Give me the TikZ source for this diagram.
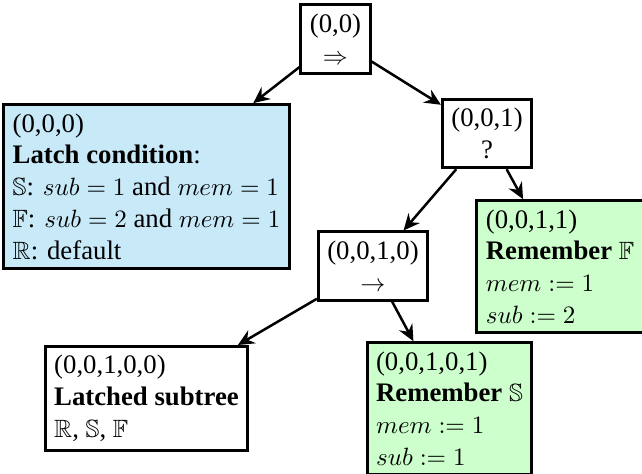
\documentclass[tikz,border=0pt]{standalone}
\usepackage{amssymb}
\usepackage{fontspec}
\setmainfont{Liberation Serif}[Scale=1.07]
\usetikzlibrary{arrows.meta}
\definecolor{latchblue}{RGB}{199,233,248}
\definecolor{remgreen}{RGB}{204,255,204}
\tikzset{
	btnode/.style={draw, line width=1.2pt, inner sep=.3333em, font={\fontsize{10}{12.7}\selectfont}},
	ctnode/.style={btnode, align=center},
	ltnode/.style={btnode, align=left},
	btedge/.style={-{Stealth[length=6.5pt,width=6pt,inset=2.2pt]}, line width=1pt}
}
\begin{document}
\begin{tikzpicture}[x=0.4pt,y=0.4pt,yscale=-1]
		\useasboundingbox (0,0) rectangle (642,474);
		
		%Shape: Rectangle [root]
		\node [ctnode] (root) at (335.5,39) {(0,0)\\$\Rightarrow$};
		%Shape: Rectangle [latch condition]
		\node [ltnode, fill=latchblue] (latch) at (146.5,186.5) {(0,0,0)\\\textbf{Latch condition}:\\$\mathbb{S}$: $sub=1$ and $mem=1$\\$\mathbb{F}$: $sub=2$ and $mem=1$\\$\mathbb{R}$: default};
		%Shape: Rectangle [fallback]
		\node [ctnode] (fallb) at (487,133.5) {(0,0,1)\\?};
		%Shape: Rectangle [sequence]
		\node [ctnode] (seq) at (373,266) {(0,0,1,0)\\$\rightarrow$};
		%Shape: Rectangle [remember F]
		\node [ltnode, fill=remgreen] (remf) at (560,266.5) {(0,0,1,1)\\\textbf{Remember} $\mathbb{F}$\\$mem := 1$\\$sub := 2$};
		%Shape: Rectangle [latched subtree]
		\node [ltnode] (latched) at (146.5,398.5) {(0,0,1,0,0)\\\textbf{Latched subtree}\\$\mathbb{R}$, $\mathbb{S}$, $\mathbb{F}$};
		%Shape: Rectangle [remember S]
		\node [ltnode, fill=remgreen] (rems) at (449.5,408.5) {(0,0,1,0,1)\\\textbf{Remember} $\mathbb{S}$\\$mem := 1$\\$sub := 1$};
		
		%Straight Lines
		\draw [btedge] (root) -- (latch);
		\draw [btedge] (root) -- (fallb);
		\draw [btedge] (fallb) -- (seq);
		\draw [btedge] (fallb) -- (remf);
		\draw [btedge] (seq) -- (latched);
		\draw [btedge] (seq) -- (rems);
		
	\end{tikzpicture}
\end{document}
